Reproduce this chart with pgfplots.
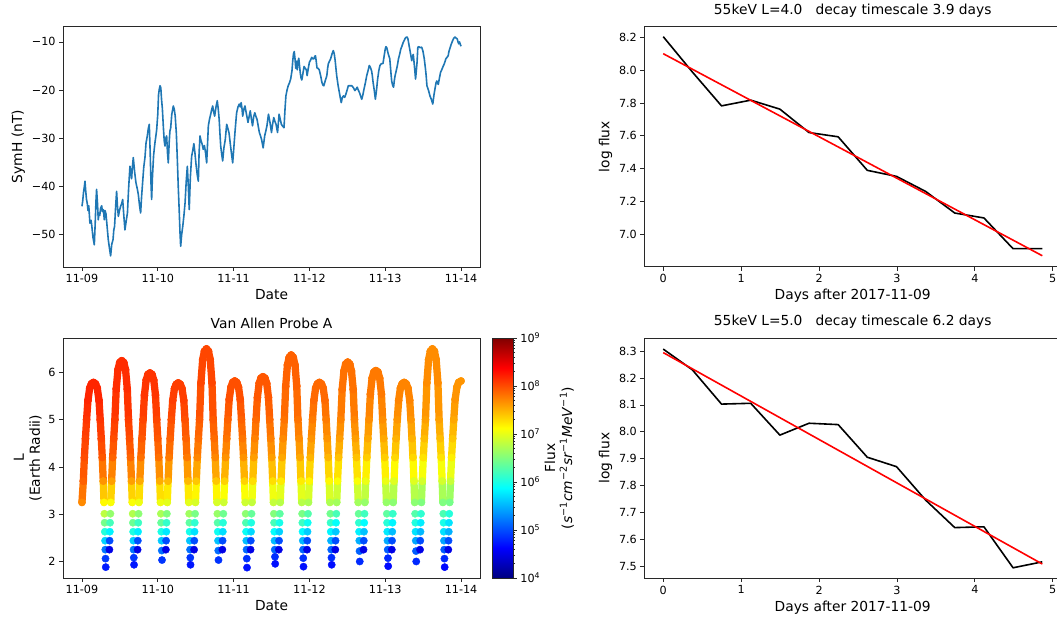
\documentclass[border=0pt]{standalone}
\usepackage{fontspec}
\setmainfont{DejaVu Sans}
\usepackage{pgfplots}
\usepackage{pgfplotstable}
\pgfplotsset{compat=1.18}
\definecolor{mplblue}{RGB}{31,119,180}
\definecolor{spine}{RGB}{40,40,40}

\pgfplotstableread{
t S
0.000 -44.1
0.010 -43.0
0.020 -41.3
0.030 -40.2
0.040 -38.9
0.050 -41.0
0.060 -42.7
0.070 -43.5
0.080 -45.0
0.090 -44.0
0.105 -47.6
0.120 -47.0
0.130 -48.2
0.145 -50.5
0.163 -52.1
0.175 -47.5
0.185 -43.0
0.193 -40.6
0.205 -43.5
0.215 -46.9
0.225 -45.5
0.235 -46.0
0.246 -44.5
0.260 -44.0
0.270 -45.2
0.283 -44.8
0.295 -46.9
0.305 -45.0
0.317 -45.7
0.330 -48.0
0.347 -51.0
0.360 -52.5
0.378 -54.4
0.393 -52.0
0.410 -51.0
0.420 -49.0
0.430 -48.3
0.445 -44.0
0.457 -41.0
0.468 -44.0
0.480 -46.2
0.495 -45.0
0.510 -44.1
0.525 -43.5
0.537 -42.7
0.552 -46.0
0.567 -49.0
0.585 -47.0
0.600 -45.5
0.615 -40.5
0.633 -35.8
0.645 -37.0
0.655 -38.4
0.665 -36.0
0.677 -34.0
0.695 -37.0
0.712 -39.2
0.730 -40.5
0.743 -41.6
0.760 -44.0
0.774 -45.5
0.787 -42.0
0.800 -39.2
0.815 -36.0
0.831 -34.0
0.845 -31.0
0.862 -29.5
0.875 -28.0
0.888 -27.1
0.900 -33.0
0.910 -39.0
0.919 -42.7
0.930 -38.0
0.945 -33.5
0.963 -30.9
0.975 -29.5
0.985 -28.3
1.000 -25.0
1.010 -21.0
1.020 -19.8
1.030 -19.1
1.040 -19.5
1.050 -22.0
1.060 -23.7
1.075 -28.0
1.085 -30.5
1.095 -31.6
1.105 -30.0
1.117 -29.5
1.128 -33.0
1.139 -35.1
1.150 -31.0
1.160 -28.5
1.170 -27.9
1.185 -25.0
1.205 -23.3
1.218 -24.0
1.230 -25.4
1.245 -29.0
1.258 -34.4
1.270 -40.0
1.284 -45.5
1.293 -49.5
1.302 -52.4
1.315 -50.0
1.330 -48.2
1.345 -46.0
1.360 -43.4
1.375 -39.0
1.390 -35.8
1.403 -40.0
1.415 -44.8
1.430 -38.0
1.447 -33.7
1.462 -32.5
1.476 -31.1
1.490 -33.0
1.505 -35.5
1.520 -37.5
1.535 -38.9
1.545 -33.0
1.557 -29.5
1.570 -30.5
1.585 -31.2
1.600 -32.3
1.615 -31.5
1.630 -33.0
1.645 -35.1
1.657 -31.0
1.667 -27.4
1.683 -26.0
1.698 -25.0
1.712 -24.0
1.724 -23.3
1.737 -24.5
1.750 -25.4
1.768 -23.5
1.785 -22.2
1.798 -24.0
1.810 -26.1
1.820 -29.0
1.830 -31.6
1.845 -33.5
1.856 -34.7
1.872 -32.0
1.890 -30.3
1.909 -27.1
1.925 -28.0
1.940 -28.9
1.960 -31.6
1.975 -33.5
1.988 -35.1
2.003 -32.0
2.018 -28.8
2.030 -26.5
2.040 -24.7
2.058 -23.5
2.075 -22.9
2.088 -23.5
2.100 -22.6
2.112 -24.0
2.120 -25.4
2.135 -24.0
2.150 -23.3
2.170 -25.0
2.190 -26.7
2.205 -25.5
2.220 -24.3
2.235 -26.0
2.250 -27.4
2.265 -25.5
2.280 -24.7
2.295 -25.5
2.310 -26.1
2.325 -27.5
2.340 -28.8
2.355 -29.5
2.370 -30.3
2.390 -32.0
2.410 -29.5
2.425 -28.5
2.440 -27.4
2.460 -25.0
2.480 -26.7
2.500 -28.8
2.515 -27.0
2.530 -25.7
2.545 -26.5
2.560 -27.1
2.580 -28.8
2.600 -25.0
2.615 -26.0
2.630 -27.1
2.648 -27.5
2.665 -27.8
2.678 -24.0
2.690 -21.2
2.705 -20.0
2.720 -19.1
2.737 -18.5
2.753 -17.7
2.770 -16.0
2.780 -14.0
2.790 -12.5
2.800 -12.0
2.810 -13.5
2.820 -15.5
2.830 -14.0
2.840 -15.8
2.850 -14.0
2.860 -13.4
2.870 -15.0
2.880 -16.5
2.890 -17.5
2.900 -17.9
2.915 -16.5
2.930 -15.1
2.945 -15.5
2.960 -15.8
2.970 -17.0
2.985 -15.5
3.000 -14.2
3.015 -13.8
3.030 -13.2
3.045 -13.5
3.060 -13.5
3.070 -13.0
3.080 -12.9
3.090 -14.0
3.100 -15.4
3.115 -15.5
3.130 -15.8
3.148 -17.0
3.165 -18.4
3.180 -19.0
3.190 -19.1
3.210 -18.0
3.230 -17.0
3.240 -15.5
3.250 -14.5
3.265 -14.0
3.280 -13.5
3.298 -12.5
3.315 -11.8
3.328 -12.5
3.340 -13.9
3.350 -15.5
3.360 -17.0
3.378 -19.0
3.395 -20.5
3.410 -21.8
3.420 -22.6
3.435 -21.5
3.450 -21.2
3.465 -21.5
3.480 -20.9
3.497 -20.0
3.513 -19.1
3.535 -19.1
3.560 -19.1
3.580 -19.5
3.600 -20.1
3.615 -19.8
3.630 -19.4
3.645 -20.0
3.660 -20.5
3.675 -21.2
3.690 -21.9
3.705 -21.0
3.720 -19.8
3.738 -18.5
3.756 -17.0
3.773 -16.0
3.790 -14.9
3.805 -15.3
3.820 -16.0
3.830 -17.0
3.840 -18.4
3.855 -20.0
3.870 -21.9
3.885 -20.0
3.900 -17.7
3.915 -16.0
3.930 -14.9
3.950 -14.5
3.970 -14.5
3.985 -13.0
4.000 -11.5
4.010 -11.0
4.020 -11.2
4.040 -12.5
4.060 -13.5
4.073 -16.0
4.085 -18.1
4.098 -19.0
4.110 -19.4
4.120 -18.0
4.130 -17.0
4.145 -16.0
4.160 -14.9
4.175 -13.5
4.190 -12.6
4.205 -11.5
4.220 -10.9
4.235 -10.2
4.250 -9.7
4.265 -9.2
4.280 -9.0
4.290 -9.0
4.300 -9.4
4.315 -10.8
4.330 -12.1
4.340 -13.0
4.350 -13.9
4.360 -13.0
4.370 -12.6
4.385 -15.0
4.400 -17.7
4.410 -16.0
4.420 -14.2
4.430 -11.1
4.445 -11.0
4.460 -11.2
4.480 -11.1
4.490 -11.5
4.500 -12.1
4.515 -13.5
4.530 -15.5
4.540 -17.0
4.550 -19.1
4.570 -20.0
4.590 -21.2
4.610 -22.0
4.627 -22.9
4.643 -21.0
4.660 -19.4
4.670 -18.5
4.680 -18.1
4.690 -18.5
4.700 -18.8
4.715 -17.5
4.730 -16.3
4.745 -15.8
4.760 -15.2
4.780 -14.5
4.800 -13.5
4.815 -13.2
4.830 -12.9
4.840 -12.0
4.850 -11.5
4.870 -10.5
4.890 -9.7
4.905 -9.2
4.920 -9.0
4.935 -9.2
4.950 -9.4
4.960 -10.0
4.970 -10.4
4.980 -10.0
4.990 -10.5
5.000 -10.9
}\symh

\pgfplotstableread{
t L c
0.000 3.25 7.70
0.018 3.70 7.90
0.032 4.20 8.00
0.046 4.60 8.05
0.061 5.00 8.12
0.079 5.41 8.20
0.102 5.67 8.20
0.125 5.76 8.20
0.152 5.79 8.20
0.179 5.76 8.20
0.202 5.67 8.20
0.225 5.41 8.20
0.241 5.00 8.12
0.255 4.60 8.05
0.268 4.20 7.95
0.281 3.70 7.65
0.291 3.25 7.15
0.296 3.01 6.80
0.299 2.82 6.45
0.302 2.63 6.05
0.305 2.44 5.65
0.308 2.25 5.20
0.311 2.06 4.90
0.314 1.88 4.75
0.362 2.25 4.50
0.365 2.44 5.00
0.368 2.63 5.82
0.371 2.82 6.21
0.375 3.01 6.60
0.380 3.25 7.10
0.391 3.70 7.59
0.405 4.20 7.89
0.419 4.60 8.00
0.434 5.00 8.08
0.452 5.65 8.16
0.475 6.06 8.16
0.498 6.21 8.16
0.525 6.25 8.16
0.552 6.21 8.16
0.575 6.06 8.16
0.598 5.65 8.16
0.614 5.00 8.08
0.628 4.60 8.00
0.641 4.20 7.89
0.654 3.70 7.59
0.664 3.25 7.10
0.669 3.01 6.75
0.672 2.82 6.41
0.675 2.63 6.02
0.678 2.44 5.63
0.681 2.25 5.19
0.684 2.08 4.89
0.687 1.93 4.74
0.734 2.25 4.50
0.737 2.44 5.00
0.740 2.63 5.80
0.743 2.82 6.17
0.747 3.01 6.56
0.752 3.25 7.04
0.763 3.70 7.53
0.777 4.20 7.83
0.791 4.60 7.95
0.806 5.00 8.03
0.824 5.52 8.12
0.847 5.84 8.12
0.870 5.96 8.12
0.897 5.99 8.12
0.924 5.96 8.12
0.947 5.84 8.12
0.970 5.52 8.12
0.986 5.00 8.03
1.000 4.60 7.95
1.013 4.20 7.83
1.026 3.70 7.53
1.036 3.25 7.04
1.041 3.01 6.71
1.044 2.82 6.37
1.047 2.63 6.00
1.050 2.44 5.61
1.053 2.23 5.18
1.056 2.03 4.88
1.107 2.25 4.50
1.110 2.44 5.00
1.113 2.63 5.77
1.116 2.82 6.13
1.120 3.01 6.51
1.125 3.25 6.99
1.136 3.70 7.47
1.150 4.20 7.78
1.164 4.60 7.90
1.179 5.00 7.99
1.197 5.41 8.07
1.220 5.66 8.07
1.243 5.75 8.07
1.270 5.78 8.07
1.297 5.75 8.07
1.320 5.66 8.07
1.343 5.41 8.07
1.359 5.00 7.99
1.373 4.60 7.90
1.386 4.20 7.78
1.399 3.70 7.47
1.409 3.25 6.99
1.414 3.01 6.66
1.417 2.82 6.33
1.420 2.63 5.97
1.423 2.44 5.59
1.426 2.25 5.17
1.429 2.08 4.88
1.432 1.93 4.73
1.479 2.25 4.50
1.482 2.44 5.00
1.485 2.63 5.74
1.488 2.82 6.10
1.492 3.01 6.47
1.497 3.25 6.93
1.508 3.70 7.40
1.522 4.20 7.72
1.536 4.60 7.85
1.551 5.00 7.94
1.569 5.78 8.03
1.592 6.27 8.03
1.615 6.45 8.03
1.642 6.50 8.03
1.669 6.45 8.03
1.692 6.27 8.03
1.715 5.78 8.03
1.731 5.00 7.94
1.745 4.60 7.85
1.758 4.20 7.72
1.771 3.70 7.40
1.781 3.25 6.93
1.786 3.01 6.62
1.789 2.82 6.30
1.792 2.63 5.94
1.795 2.44 5.57
1.798 2.23 5.15
1.801 2.03 4.87
1.852 2.25 4.50
1.855 2.44 5.00
1.858 2.63 5.72
1.861 2.82 6.06
1.865 3.01 6.42
1.870 3.25 6.88
1.881 3.70 7.34
1.895 4.20 7.66
1.909 4.60 7.80
1.924 5.00 7.90
1.942 5.43 7.99
1.965 5.69 7.99
1.988 5.79 7.99
2.015 5.82 7.99
2.042 5.79 7.99
2.065 5.69 7.99
2.088 5.43 7.99
2.104 5.00 7.90
2.118 4.60 7.80
2.131 4.20 7.66
2.144 3.70 7.34
2.154 3.25 6.88
2.159 3.01 6.57
2.162 2.82 6.26
2.165 2.63 5.92
2.168 2.44 5.55
2.171 2.25 5.14
2.174 2.06 4.86
2.177 1.87 4.71
2.224 2.25 4.50
2.227 2.44 5.00
2.230 2.63 5.69
2.233 2.82 6.02
2.237 3.01 6.37
2.242 3.25 6.83
2.253 3.70 7.28
2.267 4.20 7.60
2.281 4.60 7.75
2.296 5.00 7.86
2.314 5.47 7.95
2.337 5.77 7.95
2.360 5.88 7.95
2.387 5.91 7.95
2.414 5.88 7.95
2.437 5.77 7.95
2.460 5.47 7.95
2.476 5.00 7.86
2.490 4.60 7.75
2.503 4.20 7.60
2.516 3.70 7.28
2.526 3.25 6.83
2.531 3.01 6.52
2.534 2.82 6.22
2.537 2.63 5.89
2.540 2.44 5.53
2.543 2.25 5.13
2.546 2.10 4.85
2.549 1.95 4.70
2.597 2.25 4.50
2.600 2.44 5.00
2.603 2.63 5.66
2.606 2.82 5.98
2.610 3.01 6.33
2.615 3.25 6.77
2.626 3.70 7.22
2.640 4.20 7.55
2.654 4.60 7.70
2.669 5.00 7.81
2.687 5.71 7.90
2.710 6.16 7.90
2.733 6.32 7.90
2.760 6.37 7.90
2.787 6.32 7.90
2.810 6.16 7.90
2.833 5.71 7.90
2.849 5.00 7.81
2.863 4.60 7.70
2.876 4.20 7.55
2.889 3.70 7.22
2.899 3.25 6.77
2.904 3.01 6.48
2.907 2.82 6.18
2.910 2.63 5.86
2.913 2.44 5.52
2.916 2.25 5.12
2.919 2.07 4.85
2.922 1.89 4.70
2.969 2.25 4.50
2.972 2.44 5.00
2.975 2.63 5.63
2.978 2.82 5.94
2.982 3.01 6.28
2.987 3.25 6.72
2.998 3.70 7.16
3.012 4.20 7.49
3.026 4.60 7.65
3.041 5.00 7.77
3.059 5.41 7.86
3.082 5.67 7.86
3.105 5.76 7.86
3.132 5.79 7.86
3.159 5.76 7.86
3.182 5.67 7.86
3.205 5.41 7.86
3.221 5.00 7.77
3.235 4.60 7.65
3.248 4.20 7.49
3.261 3.70 7.16
3.271 3.25 6.72
3.276 3.01 6.43
3.279 2.82 6.14
3.282 2.63 5.83
3.285 2.44 5.50
3.288 2.25 5.11
3.291 2.08 4.84
3.294 1.93 4.69
3.342 2.25 4.50
3.345 2.44 5.00
3.348 2.63 5.61
3.351 2.82 5.90
3.355 3.01 6.23
3.360 3.25 6.67
3.371 3.70 7.10
3.385 4.20 7.43
3.399 4.60 7.60
3.414 5.00 7.73
3.432 5.64 7.82
3.455 6.03 7.82
3.478 6.18 7.82
3.505 6.22 7.82
3.532 6.18 7.82
3.555 6.03 7.82
3.578 5.64 7.82
3.594 5.00 7.73
3.608 4.60 7.60
3.621 4.20 7.43
3.634 3.70 7.10
3.644 3.25 6.67
3.649 3.01 6.38
3.652 2.82 6.10
3.655 2.63 5.81
3.658 2.44 5.48
3.661 2.22 5.10
3.664 2.00 4.83
3.714 2.25 4.50
3.717 2.44 5.00
3.720 2.63 5.58
3.723 2.82 5.87
3.727 3.01 6.19
3.732 3.25 6.61
3.743 3.70 7.03
3.757 4.20 7.37
3.771 4.60 7.55
3.786 5.00 7.68
3.804 5.54 7.78
3.827 5.88 7.78
3.850 6.01 7.78
3.877 6.04 7.78
3.904 6.01 7.78
3.927 5.88 7.78
3.950 5.54 7.78
3.966 5.00 7.68
3.980 4.60 7.55
3.993 4.20 7.37
4.006 3.70 7.03
4.016 3.25 6.61
4.021 3.01 6.34
4.024 2.82 6.07
4.027 2.63 5.78
4.030 2.44 5.46
4.033 2.25 5.08
4.036 2.07 4.82
4.039 1.90 4.67
4.087 2.25 4.50
4.090 2.44 5.00
4.093 2.63 5.55
4.096 2.82 5.83
4.100 3.01 6.14
4.105 3.25 6.56
4.116 3.70 6.97
4.130 4.20 7.32
4.144 4.60 7.50
4.159 5.00 7.64
4.177 5.41 7.73
4.200 5.67 7.73
4.223 5.76 7.73
4.250 5.79 7.73
4.277 5.76 7.73
4.300 5.67 7.73
4.323 5.41 7.73
4.339 5.00 7.64
4.353 4.60 7.50
4.366 4.20 7.32
4.379 3.70 6.97
4.389 3.25 6.56
4.394 3.01 6.29
4.397 2.82 6.03
4.400 2.63 5.75
4.403 2.44 5.44
4.406 2.22 5.07
4.409 2.00 4.82
4.459 2.25 4.50
4.462 2.44 5.00
4.465 2.63 5.53
4.468 2.82 5.79
4.472 3.01 6.10
4.477 3.25 6.50
4.488 3.70 6.91
4.502 4.20 7.26
4.516 4.60 7.45
4.531 5.00 7.59
4.549 5.78 7.69
4.572 6.27 7.69
4.595 6.45 7.69
4.622 6.50 7.69
4.649 6.45 7.69
4.672 6.27 7.69
4.695 5.78 7.69
4.711 5.00 7.59
4.725 4.60 7.45
4.738 4.20 7.26
4.751 3.70 6.91
4.761 3.25 6.50
4.766 3.01 6.25
4.769 2.82 5.99
4.772 2.63 5.73
4.775 2.44 5.42
4.778 2.25 5.06
4.781 2.06 4.81
4.784 1.88 4.66
4.832 2.25 4.50
4.835 2.44 5.00
4.838 2.63 5.50
4.841 2.82 5.75
4.845 3.01 6.05
4.850 3.25 6.45
4.861 3.70 6.85
4.875 4.20 7.20
4.889 4.60 7.40
4.904 5.00 7.55
4.922 5.43 7.65
4.945 5.69 7.65
4.968 5.79 7.65
5.000 5.82 7.65
}\orbit

\pgfplotstableread{
d f
0.000 8.206
0.374 7.990
0.748 7.783
1.123 7.818
1.497 7.763
1.871 7.620
2.245 7.594
2.619 7.389
2.994 7.352
3.368 7.260
3.742 7.128
4.116 7.098
4.490 6.910
4.865 6.910
}\fluxA

\pgfplotstableread{
d f
0.000 8.102
4.865 6.867
}\fitA

\pgfplotstableread{
d f
0.000 8.307
0.374 8.230
0.748 8.103
1.123 8.106
1.497 7.988
1.871 8.032
2.245 8.027
2.619 7.906
2.994 7.871
3.368 7.747
3.742 7.645
4.116 7.648
4.490 7.496
4.865 7.518
}\fluxB

\pgfplotstableread{
d f
0.000 8.294
4.865 7.510
}\fitB

\begin{document}
\begin{tikzpicture}
\pgfplotsset{
  myax/.style={
    scale only axis,
    axis line style={spine, line width=0.8pt},
    tick style={spine, line width=0.8pt},
    tick align=outside,
    major tick length=3.9pt,
    minor tick length=2.2pt,
    xtick pos=bottom, ytick pos=left,
    tick label style={font=\fontsize{11.2}{13}\selectfont},
    label style={font=\fontsize{13.8}{16}\selectfont},
    title style={font=\fontsize{13.8}{16}\selectfont},
    /pgf/number format/assume math mode=true,
  }
}

% top-left: SymH
\begin{axis}[myax, at={(63pt,354pt)}, anchor=south west, width=417pt, height=241pt,
  xmin=-0.25, xmax=5.25, ymin=-56.7, ymax=-6.7,
  xtick={0,1,2,3,4,5}, xticklabels={11-09,11-10,11-11,11-12,11-13,11-14},
  ytick={-50,-40,-30,-20,-10}, yticklabels={−50,−40,−30,−20,−10},
  xlabel={Date}, ylabel={SymH (nT)}]
\addplot[mplblue, line width=1.6pt, line join=round] table[x=t,y=S]{\symh};
\end{axis}

% bottom-left: Van Allen Probe A
\begin{axis}[myax, at={(63pt,43pt)}, anchor=south west, width=417pt, height=240pt,
  xmin=-0.25, xmax=5.25, ymin=1.65, ymax=6.73,
  xtick={0,1,2,3,4,5}, xticklabels={11-09,11-10,11-11,11-12,11-13,11-14},
  ytick={2,3,4,5,6},
  xlabel={Date}, ylabel={L\\(Earth Radii)}, ylabel style={align=center},
  title={Van Allen Probe A},
  colormap/jet, point meta min=4, point meta max=9,
  colorbar, colorbar/width=21pt,
  colorbar style={
    at={(parent axis.north east)}, anchor=north west, xshift=3.5pt,
    axis line style={spine, line width=0.8pt},
    tick style={spine, line width=0.8pt},
    tick align=outside, ytick pos=right, yticklabel pos=right,
    major tick length=3.9pt, minor tick length=2.2pt,
    ytick={4,5,6,7,8,9},
    yticklabels={10\textsuperscript{4},10\textsuperscript{5},10\textsuperscript{6},10\textsuperscript{7},10\textsuperscript{8},10\textsuperscript{9}},
    minor ytick={4.301,4.477,4.602,4.699,4.778,4.845,4.903,4.954,
                 5.301,5.477,5.602,5.699,5.778,5.845,5.903,5.954,
                 6.301,6.477,6.602,6.699,6.778,6.845,6.903,6.954,
                 7.301,7.477,7.602,7.699,7.778,7.845,7.903,7.954,
                 8.301,8.477,8.602,8.699,8.778,8.845,8.903,8.954},
    yticklabel style={font=\fontsize{11.2}{13}\selectfont},
    ylabel={Flux\\(\textit{s}\textsuperscript{−1}\textit{cm}\textsuperscript{−2}\textit{sr}\textsuperscript{−1}\textit{MeV}\textsuperscript{−1})},
    ylabel style={font=\fontsize{13.8}{17}\selectfont, align=center,
      at={(axis description cs:1,0.5)}, anchor=north, yshift=-28pt},
  }]
\addplot[mesh, line width=7.3pt, line cap=round, point meta=explicit,
  restrict y to domain=3.1:7, unbounded coords=jump]
  table[x=t,y=L,meta=c]{\orbit};
\addplot[scatter, only marks, mark=*, mark size=3.65pt, scatter src=explicit,
  scatter/use mapped color={draw=mapped color, fill=mapped color}]
  table[x=t,y=L,meta=c]{\orbit};
\end{axis}

% top-right
\begin{axis}[myax, at={(644.3pt,354.3pt)}, anchor=south west, width=416.9pt, height=240pt,
  xmin=-0.243, xmax=5.108, ymin=6.80, ymax=8.267,
  xtick={0,1,2,3,4,5},
  ytick={7.0,7.2,7.4,7.6,7.8,8.0,8.2}, yticklabels={7.0,7.2,7.4,7.6,7.8,8.0,8.2},
  xlabel={Days after 2017-11-09}, ylabel={log flux},
  title={55keV L=4.0\ \ \ decay timescale 3.9 days}]
\addplot[black, line width=1.6pt, line join=round] table[x=d,y=f]{\fluxA};
\addplot[red, line width=1.6pt] table[x=d,y=f]{\fitA};
\end{axis}

% bottom-right
\begin{axis}[myax, at={(644.3pt,42.7pt)}, anchor=south west, width=416.9pt, height=240pt,
  xmin=-0.243, xmax=5.108, ymin=7.457, ymax=8.347,
  xtick={0,1,2,3,4,5},
  ytick={7.5,7.6,7.7,7.8,7.9,8.0,8.1,8.2,8.3}, yticklabels={7.5,7.6,7.7,7.8,7.9,8.0,8.1,8.2,8.3},
  xlabel={Days after 2017-11-09}, ylabel={log flux},
  title={55keV L=5.0\ \ \ decay timescale 6.2 days}]
\addplot[black, line width=1.6pt, line join=round] table[x=d,y=f]{\fluxB};
\addplot[red, line width=1.6pt] table[x=d,y=f]{\fitB};
\end{axis}

\pgfresetboundingbox
\path[use as bounding box] (0,0) rectangle (1057pt,621pt);
\end{tikzpicture}
\end{document}
